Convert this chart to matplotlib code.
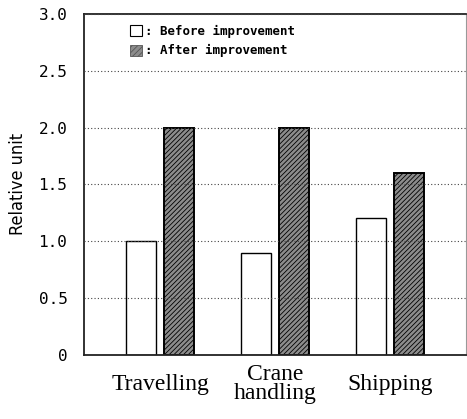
import numpy as np
import matplotlib
matplotlib.use("Agg")
import matplotlib.pyplot as plt
from matplotlib.patches import Patch

categories = ["Travelling", "Crane\nhandling", "Shipping"]
before = [1.0, 0.9, 1.2]
after = [2.0, 2.0, 1.6]
yticks = [0, 0.5, 1.0, 1.5, 2.0, 2.5, 3.0]
ytick_labels = ["0", "0.5", "1.0", "1.5", "2.0", "2.5", "3.0"]
legend_labels = [": Before improvement", ": After improvement"]

plt.rcParams["hatch.linewidth"] = 0.6

fig = plt.figure(figsize=(4.67, 4.19), dpi=100)
ax = fig.add_axes([0.18, 0.153, 0.818, 0.814])

x = np.arange(len(categories))
w = 0.26
ax.bar(x - 0.165, before, w, facecolor="white", edgecolor="black", linewidth=1.0, zorder=1)
ax.bar(x + 0.165, after, w, facecolor="#8c8c8c", edgecolor="black", linewidth=1.4,
       hatch="///////", zorder=1)

ax.set_xlim(-0.66, 2.66)
ax.set_ylim(0, 3.0)
ax.set_yticks(yticks)
ax.set_yticklabels(ytick_labels, family="DejaVu Sans Mono", fontsize=11.5)
ax.set_xticks(x)
ax.set_xticklabels(categories, family="Liberation Serif", fontsize=17, linespacing=0.9)
for lbl in ax.get_xticklabels():
    lbl.set_verticalalignment("center")
ax.tick_params(axis="y", length=0, pad=12)
ax.tick_params(axis="x", length=0, pad=21)

ax.yaxis.grid(True, linestyle=(0, (1, 2)), color="#444444", linewidth=0.8)
ax.set_axisbelow(False)

for s in ax.spines.values():
    s.set_linewidth(1.3)
    s.set_color("#222222")
ax.spines["right"].set_color("#999999")
ax.spines["right"].set_linewidth(0.8)

ax.set_ylabel("Relative unit", fontsize=13, labelpad=8, fontstretch="condensed")

handles = [Patch(facecolor="white", edgecolor="black", linewidth=0.8),
           Patch(facecolor="#8c8c8c", edgecolor="#555555", linewidth=0.6, hatch="//////")]
ax.legend(handles, legend_labels, loc="upper left", bbox_to_anchor=(0.09, 1.0),
          frameon=False, handlelength=1.0, handleheight=1.0, handletextpad=0.2,
          labelspacing=0.5, prop={"family": "DejaVu Sans Mono", "size": 9, "weight": "bold"})

fig.savefig("out.png", dpi=100)
